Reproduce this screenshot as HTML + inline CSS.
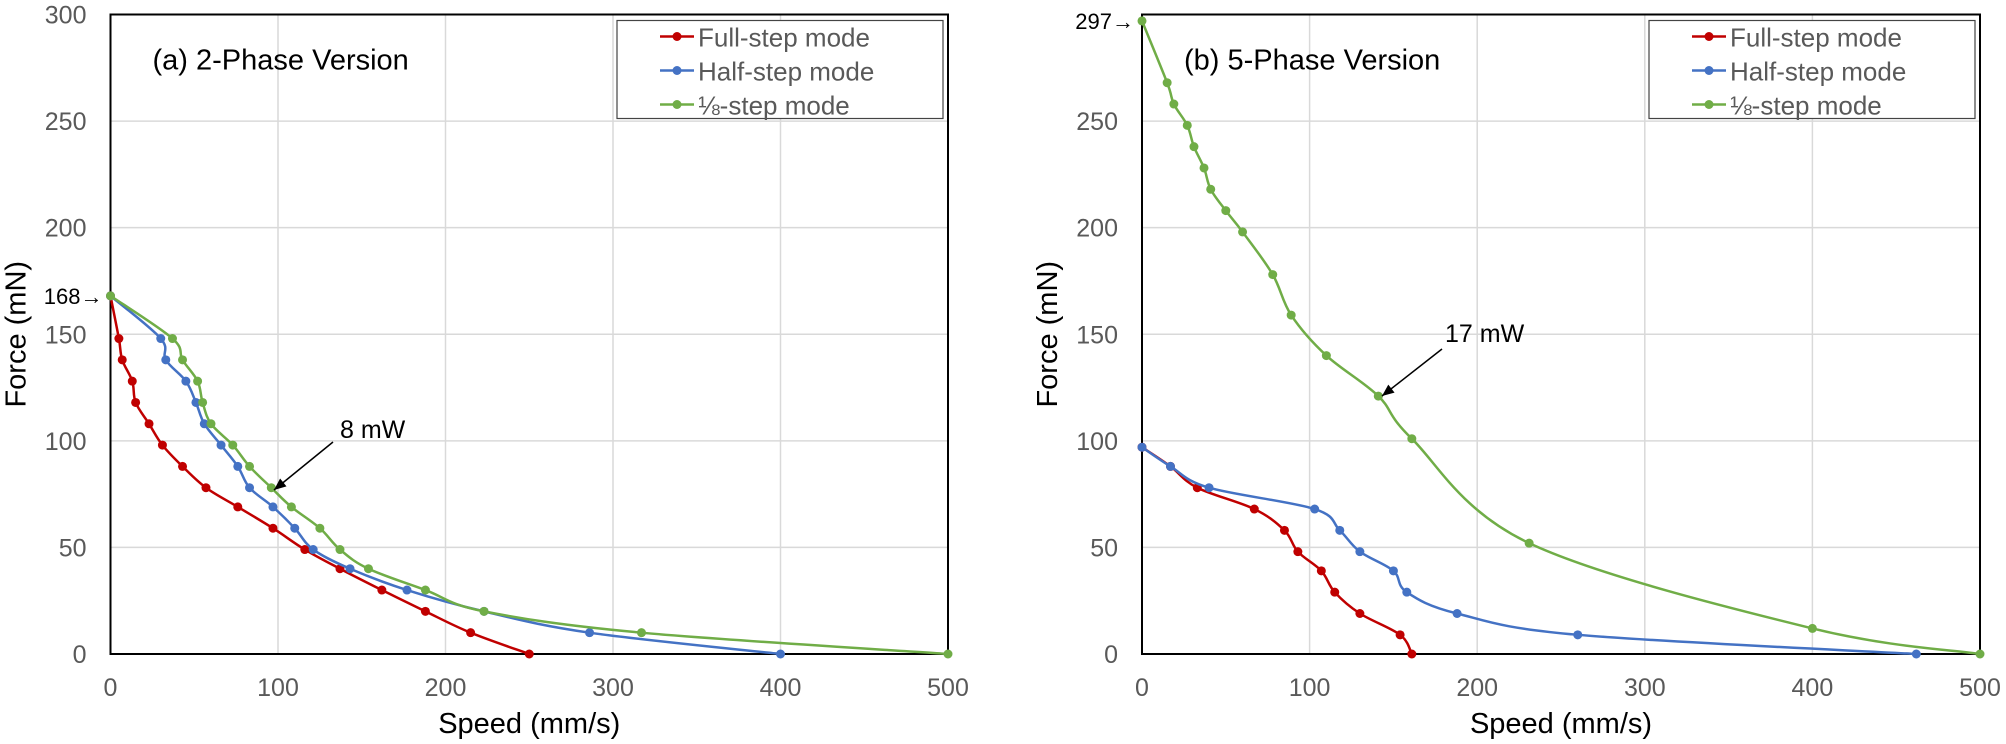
<!DOCTYPE html>
<html><head><meta charset="utf-8"><style>
html,body{margin:0;padding:0;background:#fff;}
svg{display:block;font-family:"Liberation Sans",Arial,sans-serif;}
</style></head><body>
<svg id="s" width="2006" height="744" viewBox="0 0 2006 744" xmlns="http://www.w3.org/2000/svg"></svg>
<script>
const S=document.getElementById('s');let h='';
function smooth(P){
 let d=`M${P[0][0]},${P[0][1]}`;
 for(let i=0;i<P.length-1;i++){
  const p0=P[i-1]||P[i],p1=P[i],p2=P[i+1],p3=P[i+2]||p2,t=0.17;
  const c1=[p1[0]+(p2[0]-p0[0])*t,p1[1]+(p2[1]-p0[1])*t];
  const c2=[p2[0]-(p3[0]-p1[0])*t,p2[1]-(p3[1]-p1[1])*t];
  d+=` C${c1[0]},${c1[1]} ${c2[0]},${c2[1]} ${p2[0]},${p2[1]}`;
 }
 return d;
}
function panel(x0,x1,y0,y1,title,data,note,hide300){
 const X=v=>x0+(x1-x0)*v/500, Y=v=>y0-(y0-y1)*v/300;
 for(let v=100;v<500;v+=100)h+=`<line x1="${X(v)}" y1="${y1}" x2="${X(v)}" y2="${y0}" stroke="#d9d9d9" stroke-width="1.5"/>`;
 for(let v=50;v<300;v+=50)h+=`<line x1="${x0}" y1="${Y(v)}" x2="${x1}" y2="${Y(v)}" stroke="#d9d9d9" stroke-width="1.5"/>`;
 h+=`<rect x="${x0}" y="${y1}" width="${x1-x0}" height="${y0-y1}" fill="none" stroke="#000" stroke-width="2"/>`;
 for(let v=0;v<=500;v+=100)h+=`<text x="${X(v)}" y="${y0+42}" font-size="25" fill="#595959" text-anchor="middle">${v}</text>`;
 for(let v=0;v<=300;v+=50){if(hide300&&v==300)continue;h+=`<text x="${x0-24}" y="${Y(v)+9}" font-size="25" fill="#595959" text-anchor="end">${v}</text>`;}
 h+=`<text x="${(x0+x1)/2}" y="${y0+79}" font-size="29" text-anchor="middle">Speed (mm/s)</text>`;
 h+=`<text transform="translate(${x0-85},${(y0+y1)/2}) rotate(-90)" font-size="29" text-anchor="middle">Force (mN)</text>`;
 h+=`<text x="${x0+42}" y="${y1+55}" font-size="29">${title}</text>`;
 const cols=['#c00000','#4472c4','#70ad47'];
 data.forEach((d,i)=>{
  const P=d.map(p=>[X(p[0]),Y(p[1])]);
  h+=`<path fill="none" stroke="${cols[i]}" stroke-width="2.5" d="${smooth(P)}"/>`;
  P.forEach(p=>h+=`<circle cx="${p[0]}" cy="${p[1]}" r="4.5" fill="${cols[i]}"/>`);
 });
 const lx=x1-331,ly=y1+6;
 h+=`<rect x="${lx}" y="${ly}" width="326" height="98" fill="#fff" stroke="#444" stroke-width="1.2"/>`;
 ['Full-step mode','Half-step mode','⅛-step mode'].forEach((t,i)=>{
  const yy=ly+16+i*34;
  h+=`<line x1="${lx+43}" y1="${yy}" x2="${lx+77}" y2="${yy}" stroke="${cols[i]}" stroke-width="2.5"/><circle cx="${lx+60}" cy="${yy}" r="4.5" fill="${cols[i]}"/>`;
  h+=`<text x="${lx+81}" y="${yy+10}" font-size="26" fill="#595959">${t}</text>`;
 });
 h+=note(X,Y);
}
function arrowHead(x,y,ang){const a=0.4,l=13;return `<polygon points="${x},${y} ${x-l*Math.cos(ang-a)},${y-l*Math.sin(ang-a)} ${x-l*Math.cos(ang+a)},${y-l*Math.sin(ang+a)}" fill="#000"/>`;}
panel(110.5,948,654,14.5,'(a) 2-Phase Version',[
[[0,168],[5,148],[7,138],[13,128],[15,118],[23,108],[31,98],[43,88],[57,78],[76,69],[97,59],[116,49],[137,40],[162,30],[188,20],[215,10],[250,0]],
[[0,168],[30,148],[33,138],[45,128],[51,118],[56,108],[66,98],[76,88],[83,78],[97,69],[110,59],[121,49],[143,40],[177,30],[223,20],[286,10],[400,0]],
[[0,168],[37,148],[43,138],[52,128],[55,118],[60,108],[73,98],[83,88],[96,78],[108,69],[125,59],[137,49],[154,40],[188,30],[223,20],[317,10],[500,0]]
],(X,Y)=>{
 let s=`<text x="${X(0)-8}" y="${Y(168)+8}" font-size="22" text-anchor="end">168→</text>`;
 const ax=274,ay=490,bx=333,by=442;
 s+=`<line x1="${bx}" y1="${by}" x2="${ax}" y2="${ay}" stroke="#000" stroke-width="1.5"/>`+arrowHead(ax,ay,Math.atan2(ay-by,ax-bx));
 s+=`<text x="340" y="438" font-size="25">8 mW</text>`;return s;},false);
panel(1142,1980,654,14.5,'(b) 5-Phase Version',[
[[0,97],[17,88],[33,78],[67,68],[85,58],[93,48],[107,39],[115,29],[130,19],[154,9],[161,0]],
[[0,97],[17,88],[40,78],[103,68],[118,58],[130,48],[150,39],[158,29],[188,19],[260,9],[462,0]],
[[0,297],[15,268],[19,258],[27,248],[31,238],[37,228],[41,218],[50,208],[60,198],[78,178],[89,159],[110,140],[141,121],[161,101],[231,52],[400,12],[500,0]]
],(X,Y)=>{
 let s=`<text x="${X(0)-8}" y="${Y(297)+8}" font-size="22" text-anchor="end">297→</text>`;
 const ax=1382,ay=396,bx=1442,by=349;
 s+=`<line x1="${bx}" y1="${by}" x2="${ax}" y2="${ay}" stroke="#000" stroke-width="1.5"/>`+arrowHead(ax,ay,Math.atan2(ay-by,ax-bx));
 s+=`<text x="1445" y="342" font-size="25">17 mW</text>`;return s;},true);
S.innerHTML=h;
</script>
</body></html>
